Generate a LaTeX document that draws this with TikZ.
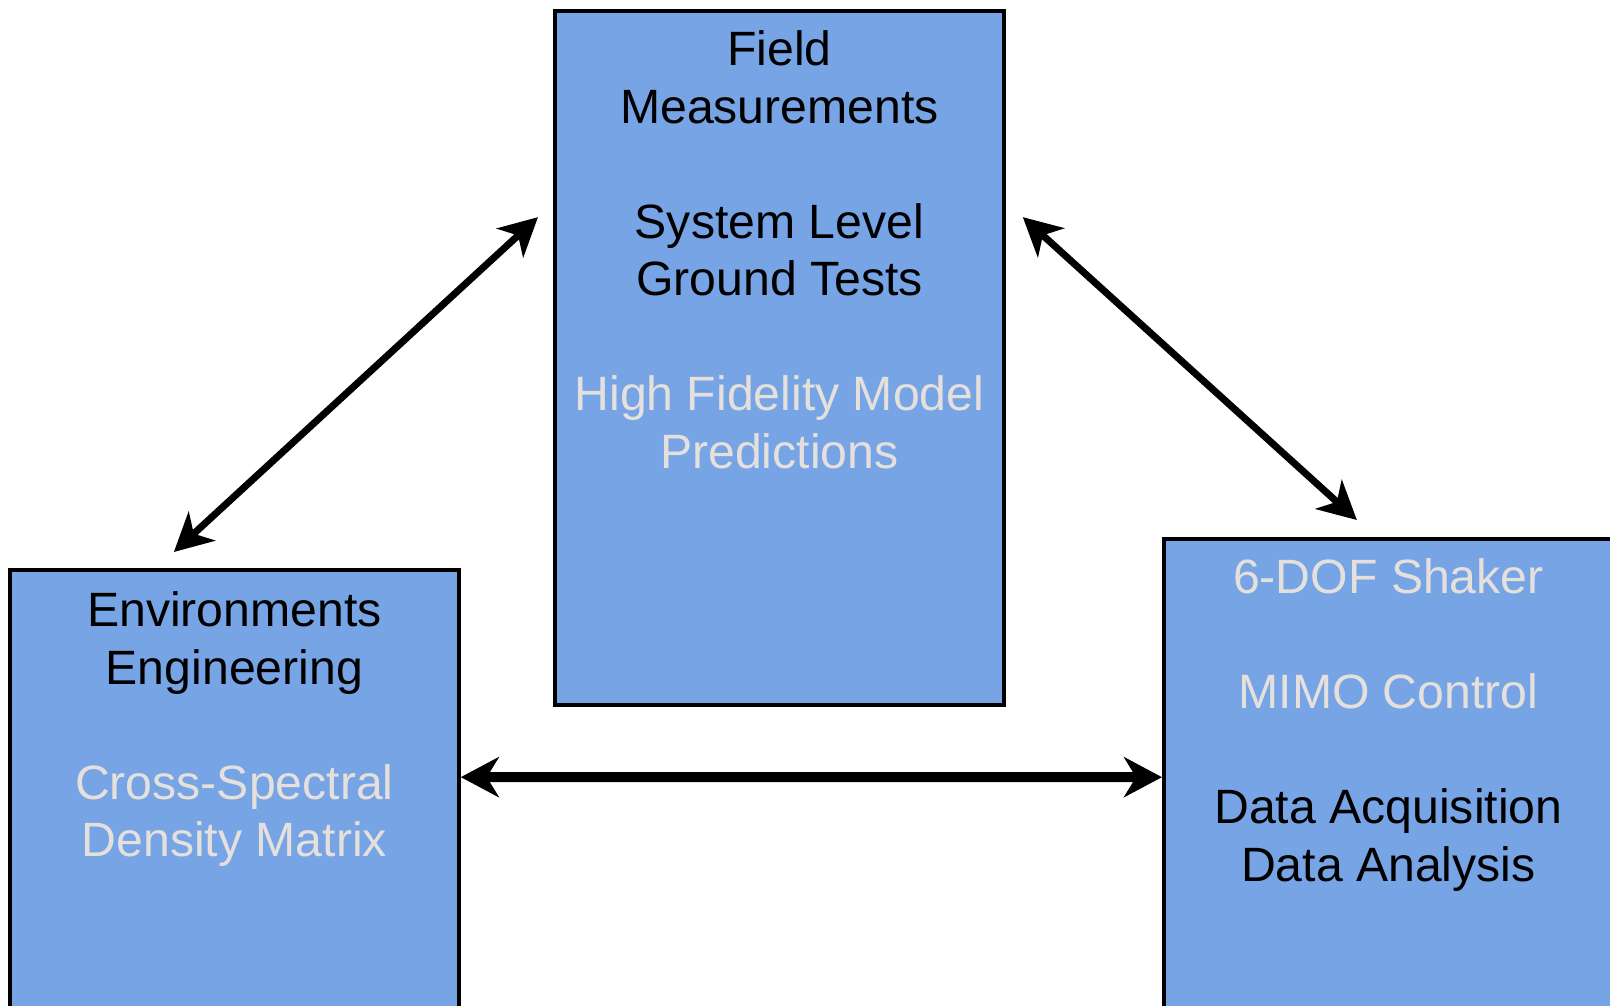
\documentclass[tikz,border=0pt]{standalone}
\usepackage{fontspec}
\setmainfont{Liberation Sans}
\usetikzlibrary{arrows.meta,positioning}
\definecolor{panelblue}{HTML}{76A4E5}
\definecolor{paletext}{HTML}{E6E0DD}
\newcommand{\pale}[1]{\textcolor{paletext}{#1}}

\begin{document}
\begin{tikzpicture}[
        x=0.01cm, y=-0.01cm,
        panel/.style={rectangle, draw=black, line width=1pt, fill=panelblue, minimum width=4.49cm, minimum height=6.94cm, inner sep=0pt, anchor=north west},
        paneltext/.style={align=center, inner sep=0pt, font=\fontsize{13.7pt}{16.35pt}\selectfont},
        link/.style={draw=black, line width=2pt, {Stealth[length=3.8mm,width=3.9mm,inset=1.1mm]}-{Stealth[length=3.8mm,width=3.9mm,inset=1.1mm]}},
        widelink/.style={draw=black, line width=2.8pt, {Stealth[length=3.8mm,width=4mm,inset=1.2mm]}-{Stealth[length=3.8mm,width=4mm,inset=1.2mm]}}
    ]
        \useasboundingbox (0,0) rectangle (1610,1005);
        \clip (0,0) rectangle (1610,1005);

        \node[panel] (field) at (553,9) {};
        \node[panel] (env) at (8,568) {};
        \node[panel] (shaker) at (1162,537) {};

        \node[paneltext, below=0.21cm of field.north] {Field\\Measurements\\[\baselineskip]System Level\\Ground Tests\\[\baselineskip]\pale{High Fidelity Model}\\\pale{Predictions}};
        \node[paneltext, below=0.23cm of env.north] {Environments\\Engineering\\[\baselineskip]\pale{Cross-Spectral}\\\pale{Density Matrix}};
        \node[paneltext, below=0.21cm of shaker.north] {\pale{6-DOF Shaker}\\[\baselineskip]\pale{MIMO Control}\\[\baselineskip]Data Acquisition\\Data Analysis};

        \draw[link] ([xshift=-0.605cm,yshift=0.16cm]env.north) -- ([xshift=-0.15cm,yshift=-2.08cm]field.north west);
        \draw[link] ([xshift=0.17cm,yshift=-2.08cm]field.north east) -- ([xshift=-0.315cm,yshift=0.17cm]shaker.north);
        \draw[widelink] ([yshift=-2.09cm]env.north east) -- ([yshift=-2.40cm]shaker.north west);
    \end{tikzpicture}
\end{document}
